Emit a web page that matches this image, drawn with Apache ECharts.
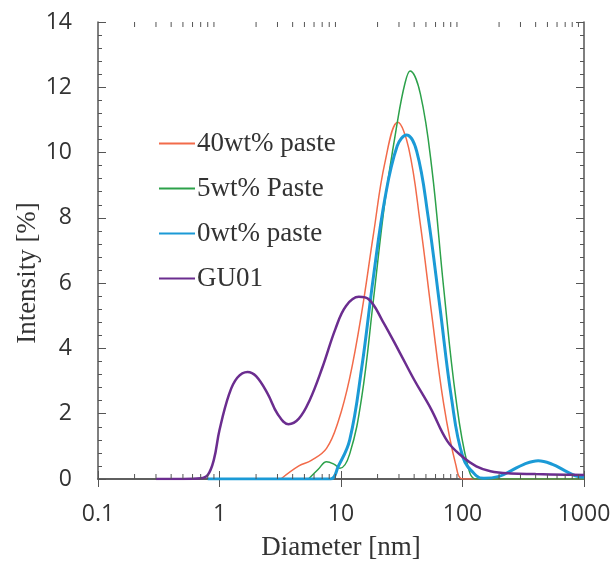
<!DOCTYPE html>
<html>
<head>
<meta charset="utf-8">
<script src="https://cdn.jsdelivr.net/npm/echarts@6/dist/echarts.min.js"></script>
<style>
  html, body { margin: 0; padding: 0; background: #fff; }
  #chart { width: 615px; height: 563px; }
</style>
</head>
<body>
<div id="chart"></div>
<script>
// diameter [nm] / intensity [%]
const guD = [0.3, 0.5, 0.7, 0.8, 0.9, 1.0, 1.2, 1.4, 1.7, 2.0, 2.5, 3.0, 3.7, 4.5, 5.5, 7, 9, 11, 14, 17, 22, 30, 40, 55, 75, 100, 130, 170, 250, 400, 700, 1000];
const guI = [0, 0, 0.02, 0.12, 0.6, 1.5, 2.6, 3.1, 3.28, 3.15, 2.6, 2.0, 1.68, 1.85, 2.4, 3.4, 4.6, 5.3, 5.58, 5.5, 4.84, 3.92, 3.04, 2.15, 1.16, 0.68, 0.39, 0.24, 0.17, 0.15, 0.13, 0.12];

const p40D = [3.2, 4.5, 5.7, 7.6, 9.5, 11.8, 14.8, 18.5, 23, 29.3, 36, 45, 56, 70, 88, 101, 200, 1000];
const p40I = [0, 0.4, 0.57, 0.94, 1.77, 3.1, 5.1, 7.5, 9.7, 10.93, 10.15, 7.8, 5.0, 2.3, 0.44, 0, 0, 0];

const p5D = [5.4, 6.5, 7.6, 8.8, 9.8, 11.8, 14.8, 18.5, 23, 29, 33.5, 37, 45, 56, 70, 88, 110, 130, 300, 1000];
const p5I = [0, 0.3, 0.53, 0.45, 0.33, 0.77, 2.5, 5.5, 8.5, 10.9, 12.1, 12.5, 11.8, 9.5, 5.85, 2.5, 0.44, 0, 0, 0];

const p0D = [0.8, 4, 8.2, 9.5, 11.8, 14.8, 18.5, 23, 29, 34.6, 42, 52, 65, 81, 101, 130, 150, 200, 250, 320, 420, 550, 700, 850, 1000];
const p0I = [0, 0, 0, 0.39, 1.2, 3.4, 6.2, 8.6, 10.2, 10.54, 10.04, 8.06, 5.3, 2.5, 0.66, 0.1, 0.02, 0.08, 0.25, 0.45, 0.56, 0.45, 0.25, 0.1, 0.05];

const names = ['40wt% paste', '5wt% Paste', '0wt% paste', 'GU01'];
const colors = ['#f26b4a', '#2ca14a', '#1b9ad6', '#6b2d8f'];
const widths = [1.5, 1.5, 3, 2.5];

// log minor tick positions
const minorX = [];
[0.1, 1, 10, 100].forEach(dec => {
  for (let k = 2; k <= 9; k++) minorX.push(+(dec * k).toPrecision(3));
});

const pair = (xs, ys) => xs.map((x, i) => [x, ys[i]]);
const curves = [pair(p40D, p40I), pair(p5D, p5I), pair(p0D, p0I), pair(guD, guI)];

const chart = echarts.init(document.getElementById('chart'));

const frame = { show: true, lineStyle: { color: '#555', width: 1.5 } };
const tickLbl = { fontFamily: 'Open Sans', fontSize: 23, color: '#333' };

const lineSeries = names.map((n, i) => ({
  name: n,
  type: 'line',
  data: curves[i],
  symbol: 'none',
  smooth: 0.4,
  lineStyle: { color: colors[i], width: widths[i] },
  itemStyle: { color: colors[i] },
  z: 3
}));

const option = {
  backgroundColor: '#fff',
  animation: false,
  grid: { left: 98, right: 31, top: 22, bottom: 84 },
  legend: {
    data: names,
    orient: 'vertical',
    left: 153,
    top: 125,
    itemWidth: 36,
    itemHeight: 20,
    itemGap: 18,
    itemStyle: { opacity: 0 },
    textStyle: { fontFamily: 'Liberation Serif', fontSize: 27, lineHeight: 27, color: '#333', padding: [0, 0, 0, -3] }
  },
  xAxis: [
    {
      type: 'log', logBase: 10, min: 0.1, max: 1000, position: 'bottom',
      axisLine: frame,
      axisTick: { inside: true, length: 8, lineStyle: { color: '#555' } },
      axisLabel: Object.assign({ margin: 24, formatter: v => String(+(+v).toPrecision(3)) }, tickLbl),
      splitLine: { show: false }
    },
    {
      type: 'log', logBase: 10, min: 0.1, max: 1000, position: 'top',
      axisLine: frame,
      axisTick: { inside: true, length: 8, lineStyle: { color: '#555' } },
      axisLabel: { show: false },
      splitLine: { show: false }
    }
  ],
  yAxis: [
    {
      type: 'value', min: 0, max: 14, interval: 2, position: 'left',
      axisLine: frame,
      axisTick: { inside: true, length: 8, lineStyle: { color: '#555' } },
      minorTick: { show: true, splitNumber: 5, length: 4, lineStyle: { color: '#555' } },
      axisLabel: Object.assign({ margin: 26 }, tickLbl),
      splitLine: { show: false }
    },
    {
      type: 'value', min: 0, max: 14, interval: 2, position: 'right',
      axisLine: frame,
      axisTick: { inside: true, length: 8, lineStyle: { color: '#555' } },
      minorTick: { show: true, splitNumber: 5, length: 4, lineStyle: { color: '#555' } },
      axisLabel: { show: false },
      splitLine: { show: false }
    }
  ],
  graphic: [
    {
      type: 'text', z: 10, x: 341, y: 548,
      style: { text: 'Diameter [nm]', font: '27px "Liberation Serif"', fill: '#333', align: 'center', verticalAlign: 'middle' }
    },
    {
      type: 'text', z: 10, x: 28, y: 273, rotation: Math.PI / 2,
      style: { text: 'Intensity [%]', font: '27px "Liberation Serif"', fill: '#333', align: 'center', verticalAlign: 'middle' }
    }
  ],
  series: lineSeries.concat([{
    type: 'custom',
    silent: true,
    data: minorX.map(v => [v, 0]),
    renderItem: function (params, api) {
      const b = api.coord([api.value(0), 0]);
      const t = api.coord([api.value(0), 14]);
      return {
        type: 'group',
        children: [
          { type: 'line', shape: { x1: b[0], y1: b[1], x2: b[0], y2: b[1] - 5 }, style: { stroke: '#555', lineWidth: 1 } },
          { type: 'line', shape: { x1: t[0], y1: t[1], x2: t[0], y2: t[1] + 5 }, style: { stroke: '#555', lineWidth: 1 } }
        ]
      };
    },
    z: 4
  }])
};

chart.setOption(option);
</script>
</body>
</html>
